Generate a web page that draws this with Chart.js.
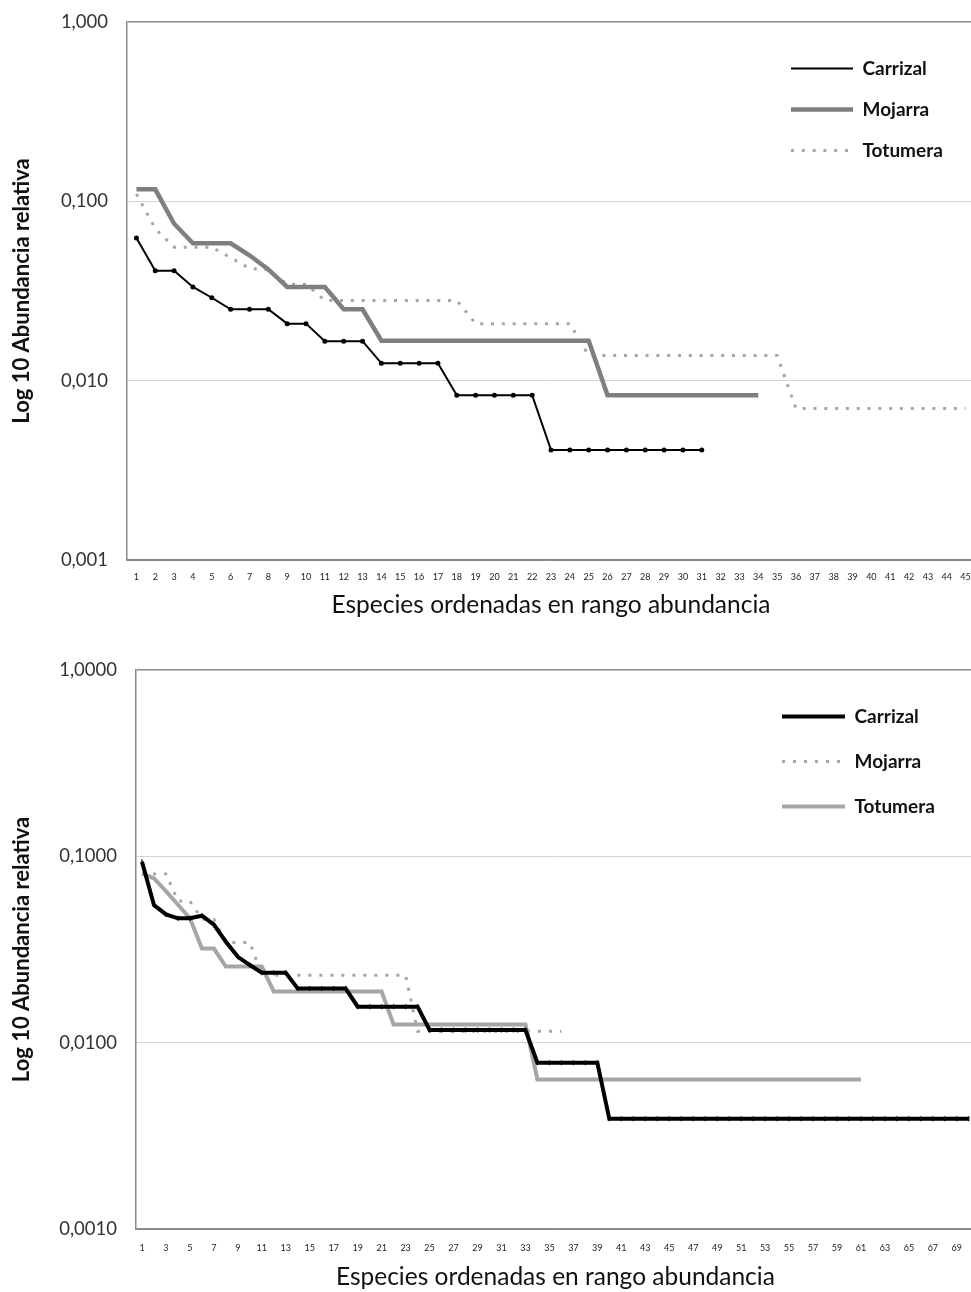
<!DOCTYPE html>
<html><head><meta charset="utf-8">
<script src="https://cdn.jsdelivr.net/npm/chart.js@4.4.1/dist/chart.umd.min.js"></script>
<style>
html,body{margin:0;padding:0;background:#fff;overflow:hidden;width:971px;height:1292px;position:relative}
#c1{position:absolute;left:0;top:0}
#c2{position:absolute;left:0;top:640px}
</style></head><body>
<canvas id="c1" width="980" height="620"></canvas>
<canvas id="c2" width="980" height="652"></canvas>
<script>
// ---------- DATA (top chart) ----------
const topCategories = ["1","2","3","4","5","6","7","8","9","10","11","12","13","14","15","16","17","18","19","20","21","22","23","24","25","26","27","28","29","30","31","32","33","34","35","36","37","38","39","40","41","42","43","44","45"];
const topCarrizal = [0.0625,0.0410,0.0410,0.0333,0.0290,0.0250,0.0250,0.0250,0.0208,0.0208,0.0166,0.0166,0.0166,0.0125,0.0125,0.0125,0.0125,0.0083,0.0083,0.0083,0.0083,0.0083,0.0041,0.0041,0.0041,0.0041,0.0041,0.0041,0.0041,0.0041,0.0041];
const topMojarra = [0.1167,0.1167,0.0750,0.0583,0.0583,0.0583,0.0500,0.0417,0.0333,0.0333,0.0333,0.0250,0.0250,0.0167,0.0167,0.0167,0.0167,0.0167,0.0167,0.0167,0.0167,0.0167,0.0167,0.0167,0.0167,0.0083,0.0083,0.0083,0.0083,0.0083,0.0083,0.0083,0.0083,0.0083];
const topTotumera = [0.1100,0.0704,0.0555,0.0555,0.0555,0.0485,0.0423,0.0415,0.0345,0.0345,0.0280,0.0280,0.0280,0.0280,0.0280,0.0280,0.0280,0.0280,0.0208,0.0208,0.0208,0.0208,0.0208,0.0208,0.0138,0.0138,0.0138,0.0138,0.0138,0.0138,0.0138,0.0138,0.0138,0.0138,0.0138,0.0070,0.0070,0.0070,0.0070,0.0070,0.0070,0.0070,0.0070,0.0070,0.0070];
const topTickValues = [0.001, 0.01, 0.1, 1];
const topTickLabels = ["0,001", "0,010", "0,100", "1,000"];

// ---------- DATA (bottom chart) ----------
const botCategories = ["1","2","3","4","5","6","7","8","9","10","11","12","13","14","15","16","17","18","19","20","21","22","23","24","25","26","27","28","29","30","31","32","33","34","35","36","37","38","39","40","41","42","43","44","45","46","47","48","49","50","51","52","53","54","55","56","57","58","59","60","61","62","63","64","65","66","67","68","69","70"];
const botCarrizal = [0.0935,0.0548,0.0488,0.0465,0.0465,0.0480,0.0430,0.0348,0.0289,0.0261,0.0237,0.0237,0.0237,0.0195,0.0195,0.0195,0.0195,0.0195,0.0156,0.0156,0.0156,0.0156,0.0156,0.0156,0.0117,0.0117,0.0117,0.0117,0.0117,0.0117,0.0117,0.0117,0.0117,0.0078,0.0078,0.0078,0.0078,0.0078,0.0078,0.0039,0.0039,0.0039,0.0039,0.0039,0.0039,0.0039,0.0039,0.0039,0.0039,0.0039,0.0039,0.0039,0.0039,0.0039,0.0039,0.0039,0.0039,0.0039,0.0039,0.0039,0.0039,0.0039,0.0039,0.0039,0.0039,0.0039,0.0039,0.0039,0.0039,0.0039];
const botMojarra = [0.0805,0.0805,0.0805,0.0575,0.0575,0.0460,0.0460,0.0345,0.0345,0.0345,0.0230,0.0230,0.0230,0.0230,0.0230,0.0230,0.0230,0.0230,0.0230,0.0230,0.0230,0.0230,0.0230,0.0115,0.0115,0.0115,0.0115,0.0115,0.0115,0.0115,0.0115,0.0115,0.0115,0.0115,0.0115,0.0115];
const botTotumera = [0.0810,0.0762,0.0650,0.0550,0.0465,0.0320,0.0320,0.0256,0.0256,0.0256,0.0256,0.0188,0.0188,0.0188,0.0188,0.0188,0.0188,0.0188,0.0188,0.0188,0.0188,0.0125,0.0125,0.0125,0.0125,0.0125,0.0125,0.0125,0.0125,0.0125,0.0125,0.0125,0.0125,0.00635,0.00635,0.00635,0.00635,0.00635,0.00635,0.00635,0.00635,0.00635,0.00635,0.00635,0.00635,0.00635,0.00635,0.00635,0.00635,0.00635,0.00635,0.00635,0.00635,0.00635,0.00635,0.00635,0.00635,0.00635,0.00635,0.00635,0.00635];
const botTickValues = [0.001, 0.01, 0.1, 1];
const botTickLabels = ["0,0010", "0,0100", "0,1000", "1,0000"];

const seriesNames = ["Carrizal", "Mojarra", "Totumera"];
const yTitle = "Log 10 Abundancia relativa";
const xTitle = "Especies ordenadas en rango abundancia";

// ---------- helpers ----------
const FONT = 'Lato, "DejaVu Sans", sans-serif';
Chart.defaults.font.family = FONT;
Chart.defaults.color = '#222';

const legendPlace = {
  id: 'legendPlace',
  afterLayout(chart, args, opts) {
    const lg = chart.legend;
    if (!lg) return;
    const w = lg.width, h = lg.height;
    lg.left = opts.x; lg.top = opts.y; lg.right = opts.x + w; lg.bottom = opts.y + h;
  }
};

function legendLabels(chart) {
  return chart.data.datasets.map((ds, i) => ({
    text: ds.label,
    fillStyle: ds.borderColor,
    strokeStyle: ds.borderColor,
    lineWidth: ds.borderWidth,
    lineDash: ds.borderDash || [],
    lineCap: ds.borderCapStyle || 'butt',
    pointStyle: 'line',
    fontColor: '#111',
    hidden: false,
    datasetIndex: i
  }));
}

function makeChart(canvas, cfg) {
  return new Chart(canvas, {
    type: 'line',
    data: { labels: cfg.labels, datasets: cfg.datasets },
    plugins: [legendPlace],
    options: {
      responsive: false,
      animation: false,
      devicePixelRatio: 1,
      layout: { padding: { top: cfg.padTop, right: cfg.padRight, left: 0, bottom: 0 } },
      elements: { line: { tension: 0 } },
      plugins: {
        tooltip: { enabled: false },
        legendPlace: { x: cfg.legendX, y: cfg.legendY },
        legend: {
          position: 'chartArea',
          align: 'start',
          labels: {
            usePointStyle: true,
            pointStyleWidth: cfg.legendBox,
            boxHeight: 19,
            padding: cfg.legendPad,
            color: '#111',
            font: { family: FONT, size: 19, weight: 'bold' },
            generateLabels: legendLabels
          }
        }
      },
      scales: {
        x: {
          type: 'category',
          offset: true,
          grid: { display: false, drawTicks: false },
          border: { display: true, color: '#8a8a8a', width: 1.5 },
          ticks: {
            autoSkip: false, maxRotation: 0, minRotation: 0,
            padding: cfg.xTickPad,
            color: '#222',
            font: { family: FONT, size: 9 },
            callback: function(v, i) { return cfg.xTickFilter(i) ? this.getLabelForValue(v) : ''; }
          },
          title: { display: true, text: xTitle, color: '#111', font: { family: FONT, size: 24.5 }, padding: { top: 0, bottom: 0 } },
          afterFit(s) { s.height = cfg.xHeight; s.paddingLeft = 0; s.paddingRight = 0; }
        },
        y: {
          type: 'logarithmic',
          min: 0.001, max: 1,
          grid: {
            drawTicks: false,
            color: (c) => (c.tick && (c.tick.value === 1 || c.tick.value === 0.001)) ? '#8a8a8a' : '#d4d4d4',
            lineWidth: (c) => (c.tick && c.tick.value === 1) ? 1.5 : 1
          },
          border: { display: true, color: '#8a8a8a', width: 1.5 },
          afterBuildTicks(s) { s.ticks = cfg.yTickValues.map(v => ({ value: v })); },
          ticks: {
            padding: cfg.yTickPad,
            color: '#333',
            font: { family: FONT, size: 18.5 },
            callback: (v) => { const k = cfg.yTickValues.indexOf(v); return k >= 0 ? cfg.yTickLabels[k] : ''; }
          },
          title: { display: true, text: yTitle, color: '#111', font: { family: FONT, size: 22, weight: 'bold' }, padding: { top: 9, bottom: 0 } },
          afterFit(s) { s.width = cfg.yWidth; s.paddingTop = 0; s.paddingBottom = 0; }
        }
      }
    }
  });
}

// ---------- top chart ----------
makeChart(document.getElementById('c1'), {
  labels: topCategories,
  datasets: [
    { label: seriesNames[0], data: topCarrizal, borderColor: '#000000', backgroundColor: '#000000', borderWidth: 2,
      pointRadius: 2.5, pointStyle: 'circle', pointBackgroundColor: '#000', pointBorderWidth: 0, order: 1 },
    { label: seriesNames[1], data: topMojarra, borderColor: '#7f7f7f', backgroundColor: '#7f7f7f', borderWidth: 4.5,
      pointRadius: 0, order: 2 },
    { label: seriesNames[2], data: topTotumera, borderColor: '#a6a6a6', backgroundColor: '#a6a6a6', borderWidth: 3,
      borderDash: [3, 7.8], pointRadius: 0, order: 3 }
  ],
  padTop: 22, padRight: 5,
  xHeight: 60, yWidth: 127,
  xTickPad: 12, yTickPad: 19,
  xTickFilter: () => true,
  yTickValues: topTickValues, yTickLabels: topTickLabels,
  legendX: 769, legendY: 37, legendBox: 62, legendPad: 22
});

// ---------- bottom chart ----------
makeChart(document.getElementById('c2'), {
  labels: botCategories,
  datasets: [
    { label: seriesNames[0], data: botCarrizal, borderColor: '#000000', backgroundColor: '#000000', borderWidth: 4,
      pointRadius: 2.5, pointStyle: 'line', pointRotation: 90, pointBorderColor: '#000', pointBorderWidth: 1.2, order: 1 },
    { label: seriesNames[1], data: botMojarra, borderColor: '#a6a6a6', backgroundColor: '#a6a6a6', borderWidth: 3,
      borderDash: [3, 8], pointRadius: 0, order: 3 },
    { label: seriesNames[2], data: botTotumera, borderColor: '#a6a6a6', backgroundColor: '#a6a6a6', borderWidth: 4,
      pointRadius: 0, order: 2 }
  ],
  padTop: 30, padRight: 4,
  xHeight: 63, yWidth: 136,
  xTickPad: 14, yTickPad: 19,
  xTickFilter: (i) => i % 2 === 0,
  yTickValues: botTickValues, yTickLabels: botTickLabels,
  legendX: 756, legendY: 41, legendBox: 63, legendPad: 26
});
</script>
</body></html>
